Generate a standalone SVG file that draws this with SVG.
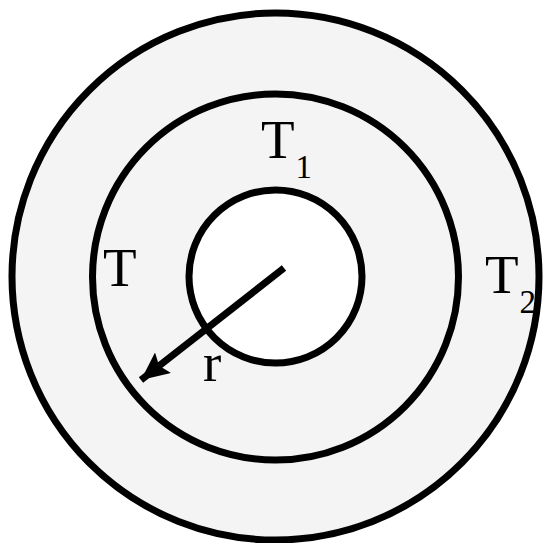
<svg xmlns="http://www.w3.org/2000/svg" width="543" height="543" viewBox="0 0 543 543">
<style>
.ring{stroke:#000;stroke-width:7}
.lbl{font-family:"Liberation Serif","Times New Roman",serif;fill:#000}
.big{font-size:55px}
.sub{font-size:33px}
</style>
<defs>
<marker id="ah" markerUnits="userSpaceOnUse" markerWidth="30" markerHeight="26" refX="28" refY="13" orient="auto">
<path d="M0,0 L28,13 L0,26 L5,13 Z" fill="#000"/>
</marker>
</defs>
<rect width="543" height="543" fill="#fff"/>
<g id="outer"><circle class="ring" cx="275.5" cy="276.5" r="263.5" fill="#f4f4f4"/></g>
<g id="middle"><circle class="ring" cx="275.5" cy="277" r="183" fill="#f4f4f4"/></g>
<g id="inner"><circle class="ring" cx="275.5" cy="276.5" r="86.5" fill="#fff"/></g>
<g id="connectors">
<line x1="284" y1="268" x2="141" y2="380" stroke="#000" stroke-width="7" marker-end="url(#ah)"/>
</g>
<g id="labels" class="lbl">
<text class="big" x="261" y="157.5">T</text><text class="sub" x="295.5" y="178">1</text>
<text class="big" x="103" y="285.5">T</text>
<text class="big" x="485" y="292.5">T</text><text class="sub" x="519.5" y="313">2</text>
<text class="big" x="203" y="381">r</text>
</g>
</svg>
